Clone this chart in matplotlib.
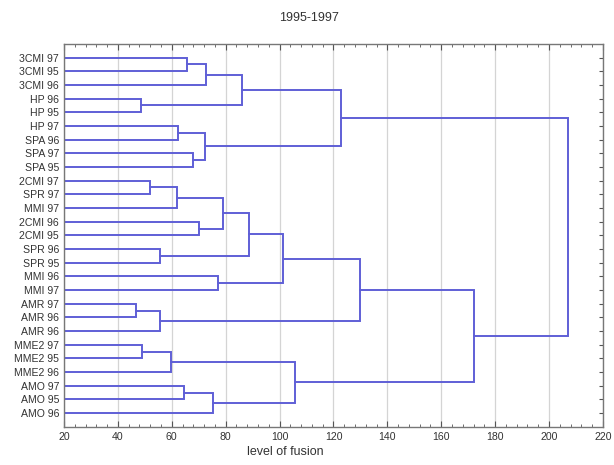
import matplotlib
matplotlib.use('Agg')
import matplotlib.pyplot as plt
from matplotlib.ticker import MultipleLocator

labels = ['3CMI 97', '3CMI 95', '3CMI 96', 'HP 96', 'HP 95', 'HP 97', 'SPA 96', 'SPA 97', 'SPA 95',
          '2CMI 97', 'SPR 97', 'MMI 97', '2CMI 96', '2CMI 95', 'SPR 96', 'SPR 95', 'MMI 96', 'MMI 97',
          'AMR 97', 'AMR 96', 'AMR 96', 'MME2 97', 'MME2 95', 'MME2 96', 'AMO 97', 'AMO 95', 'AMO 96']

# merges in scipy style: new cluster ids start at len(labels)
merge_a = [0, 27, 3, 28, 5, 7, 31, 30, 9, 35, 12, 36, 14, 38, 16, 40, 18, 43, 42, 21, 46, 24, 48, 47, 45, 34]
merge_b = [1, 2, 4, 29, 6, 8, 32, 33, 10, 11, 13, 37, 15, 39, 17, 41, 19, 20, 44, 22, 23, 25, 26, 49, 50, 51]
fusion = [65.7, 72.6, 48.7, 86.2, 62.2, 67.7, 72.4, 122.7, 51.9, 61.9, 70.0, 79.1, 55.6, 88.5,
          77.3, 101.4, 46.7, 55.6, 129.9, 49.1, 59.7, 64.5, 75.2, 105.8, 172.1, 206.9]

plt.rcParams['font.family'] = ['Liberation Sans', 'DejaVu Sans']

fig = plt.figure(figsize=(6.14, 4.65), dpi=100)
ax = fig.add_axes([0.1042, 0.0824, 0.8778, 0.823])

n = len(labels)
ypos = {i: i + 1 for i in range(n)}
xpos = {i: 0.0 for i in range(n)}
col = '#5f5fd6'
for k in range(len(fusion)):
    a, b, h = merge_a[k], merge_b[k], fusion[k]
    ax.plot([xpos[a], h, h, xpos[b]], [ypos[a], ypos[a], ypos[b], ypos[b]],
            color=col, lw=1.4, solid_joinstyle='miter')
    ypos[n + k] = (ypos[a] + ypos[b]) / 2
    xpos[n + k] = h

ax.set_xlim(20, 220)
ax.set_ylim(n + 1, 0)
ax.xaxis.set_major_locator(MultipleLocator(20))
ax.xaxis.set_minor_locator(MultipleLocator(4))
ax.set_yticks(range(1, n + 1))
ax.set_yticklabels(labels)
ax.grid(axis='x', color='#d4d4d4', lw=0.9)
ax.set_axisbelow(True)

for s in ax.spines.values():
    s.set_color('#777777')
    s.set_linewidth(1.0)

ax.tick_params(axis='x', which='both', direction='in', top=True, bottom=True, colors='#555555',
               labelcolor='#333333', labelsize=7.6, pad=4)
ax.tick_params(axis='x', which='major', length=4)
ax.tick_params(axis='x', which='minor', length=2.5)
ax.tick_params(axis='y', direction='in', left=False, right=True, length=3, colors='#555555',
               labelcolor='#333333', labelsize=7.6, pad=3.5)
for t in ax.get_xticklabels():
    t.set_family(['Liberation Sans Narrow', 'Liberation Sans'])

fig.text(0.503, 0.962, '1995-1997', ha='center', va='center', fontsize=9, color='#333333')
fig.text(0.465, 0.027, 'level of fusion', ha='center', va='center', fontsize=9, color='#333333')

fig.savefig('out.png', dpi=100)
